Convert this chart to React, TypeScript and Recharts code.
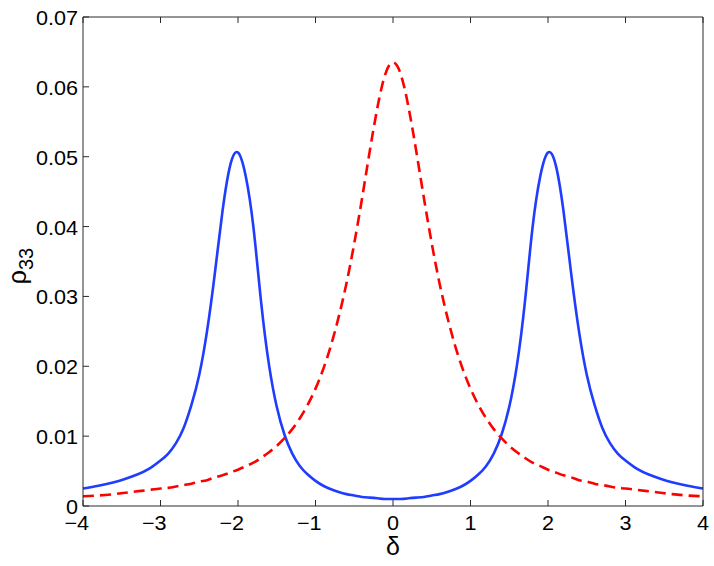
import React from "react";
import { LineChart, Line, XAxis, YAxis } from "recharts";

// detuning δ
const delta = [
  -4, -3.8, -3.6, -3.45, -3.3, -3.15, -3, -2.9, -2.8, -2.7,
  -2.6, -2.5, -2.4, -2.3, -2.2, -2.1, -2, -1.9, -1.8, -1.7, -1.6, -1.5, -1.4, -1.3, -1.2, -1.1,
  -1, -0.9, -0.8, -0.7, -0.6, -0.5, -0.4, -0.3, -0.2, -0.1,
  0,
  0.1, 0.2, 0.3, 0.4, 0.5, 0.6, 0.7, 0.8, 0.9, 1, 1.1, 1.2, 1.3, 1.4, 1.5, 1.6, 1.7, 1.8, 1.9,
  2, 2.1, 2.2, 2.3, 2.4, 2.5, 2.6,
  2.7, 2.8, 2.9, 3, 3.15, 3.3, 3.45, 3.6, 3.8, 4,
];

// solid blue curve (two peaks)
const blueRho = [
  0.0025, 0.0029, 0.0034, 0.0039, 0.0045, 0.0053, 0.0065, 0.0075, 0.009, 0.0112,
  0.0145, 0.0188, 0.025, 0.0332, 0.0422, 0.0488, 0.0506, 0.0472, 0.0398, 0.029, 0.0202, 0.0142,
  0.0102, 0.0075, 0.0057, 0.0045, 0.0036, 0.0029, 0.0024, 0.002, 0.0017, 0.0015, 0.0013, 0.0012,
  0.0011, 0.001,
  0.001,
  0.001, 0.0011, 0.0012, 0.0013, 0.0015, 0.0017, 0.002, 0.0024, 0.0029, 0.0036, 0.0045, 0.0057,
  0.0075, 0.0102, 0.0142, 0.0202, 0.029, 0.0398, 0.0472, 0.0506, 0.0488, 0.0422, 0.0332, 0.025,
  0.0188, 0.0145,
  0.0112, 0.009, 0.0075, 0.0065, 0.0053, 0.0045, 0.0039, 0.0034, 0.0029, 0.0025,
];

// dashed red curve (single central peak)
const redRho = [
  0.0014, 0.0015, 0.0017, 0.0019, 0.0021, 0.0023, 0.0025, 0.0026, 0.0028, 0.003,
  0.0032, 0.0035, 0.0037, 0.0041, 0.0044, 0.0048, 0.0052, 0.0057, 0.0062, 0.0069, 0.0077, 0.0086,
  0.0097, 0.011, 0.0126, 0.0145, 0.0168, 0.0196, 0.023, 0.0271, 0.0319, 0.0376, 0.044, 0.0508,
  0.0571, 0.0618,
  0.0635,
  0.0618, 0.0571, 0.0508, 0.044, 0.0376, 0.0319, 0.0271, 0.023, 0.0196, 0.0168, 0.0145, 0.0126,
  0.011, 0.0097, 0.0086, 0.0077, 0.0069, 0.0062, 0.0057, 0.0052, 0.0048, 0.0044, 0.0041, 0.0037,
  0.0035, 0.0032,
  0.003, 0.0028, 0.0026, 0.0025, 0.0023, 0.0021, 0.0019, 0.0017, 0.0015, 0.0014,
];

const xTicks = [-4, -3, -2, -1, 0, 1, 2, 3, 4];
const yTicks = [0, 0.01, 0.02, 0.03, 0.04, 0.05, 0.06, 0.07];
const yTickLabels = ["0", "0.01", "0.02", "0.03", "0.04", "0.05", "0.06", "0.07"];

const data = delta.map((d, i) => ({ d, blue: blueRho[i], red: redRho[i] }));

const FONT = "'Liberation Sans', Arial, Helvetica, sans-serif";
const AXIS = "#2a2a2a";
const TL = 6;
const W = 714;
const H = 566;
const M_TOP = 16;
const Y_W = 83;
const X_H = 60;
const M_RIGHT = 10;

const BottomTick = (props: any) => {
  const { x, y, payload } = props;
  const v = payload.value as number;
  const neg = v < 0;
  const label = neg ? "\u2212" + Math.abs(v) : String(v);
  return (
    <g>
      <line x1={x} x2={x} y1={y} y2={y - TL} stroke={AXIS} strokeWidth={1} />
      <text
        transform={`translate(${neg ? x + 6 : x},${y + 24}) scale(1.08,1)`}
        textAnchor={neg ? "end" : "middle"}
        fontSize={20}
        fontFamily={FONT}
        fill="#000"
      >
        {label}
      </text>
    </g>
  );
};

const TopTick = (props: any) => {
  const { x, y } = props;
  return <line x1={x} x2={x} y1={y} y2={y + TL} stroke={AXIS} strokeWidth={1} />;
};

const LeftTick = (props: any) => {
  const { x, y, index } = props;
  return (
    <g>
      <line x1={x} x2={x + TL} y1={y} y2={y} stroke={AXIS} strokeWidth={1} />
      <text
        transform={`translate(${x - 5},${y + 8}) scale(1.08,1)`}
        textAnchor="end"
        fontSize={20}
        fontFamily={FONT}
        fill="#000"
      >
        {yTickLabels[index]}
      </text>
    </g>
  );
};

const RightTick = (props: any) => {
  const { x, y } = props;
  return <line x1={x} x2={x - TL} y1={y} y2={y} stroke={AXIS} strokeWidth={1} />;
};

const XLabel = () => {
  const cx = Y_W + (W - Y_W - M_RIGHT - 1) / 2;
  return (
    <text x={cx} y={H - 11} textAnchor="middle" fontSize={25} fontFamily={FONT} fill="#000">
      δ
    </text>
  );
};

const YLabel = () => (
  <text transform="translate(26,266) rotate(-90)" textAnchor="middle" fontFamily={FONT} fill="#000">
    <tspan fontSize={25}>ρ</tspan>
    <tspan fontSize={20} dy={7}>33</tspan>
  </text>
);

export default function App() {
  return (
    <div style={{ position: "fixed", left: 0, top: 0, width: W, height: H, background: "#fff" }}>
      <LineChart
        width={W}
        height={H}
        data={data}
        margin={{ top: M_TOP, right: M_RIGHT, bottom: 0, left: 0 }}
      >
        <XAxis
          xAxisId={0}
          dataKey="d"
          type="number"
          domain={[-4, 4]}
          ticks={xTicks}
          interval={0}
          height={X_H}
          tickSize={0}
          tickMargin={0}
          tickLine={false}
          axisLine={{ stroke: AXIS, strokeWidth: 1 }}
          tick={BottomTick}
          label={XLabel}
        />
        <XAxis
          xAxisId="top"
          orientation="top"
          dataKey="d"
          type="number"
          domain={[-4, 4]}
          ticks={xTicks}
          interval={0}
          height={1}
          tickSize={0}
          tickMargin={0}
          tickLine={false}
          axisLine={{ stroke: AXIS, strokeWidth: 1 }}
          tick={TopTick}
        />
        <YAxis
          yAxisId={0}
          type="number"
          domain={[0, 0.07]}
          ticks={yTicks}
          interval={0}
          width={Y_W}
          tickSize={0}
          tickMargin={0}
          tickLine={false}
          axisLine={{ stroke: AXIS, strokeWidth: 1 }}
          tick={LeftTick}
          label={YLabel}
        />
        <YAxis
          yAxisId="right"
          orientation="right"
          type="number"
          domain={[0, 0.07]}
          ticks={yTicks}
          interval={0}
          width={1}
          tickSize={0}
          tickMargin={0}
          tickLine={false}
          axisLine={{ stroke: AXIS, strokeWidth: 1 }}
          tick={RightTick}
        />
        <Line
          xAxisId={0}
          yAxisId={0}
          dataKey="blue"
          type="natural"
          stroke="#1f3cff"
          strokeWidth={2.6}
          dot={false}
          activeDot={false}
          isAnimationActive={false}
        />
        <Line
          xAxisId={0}
          yAxisId={0}
          dataKey="red"
          type="natural"
          stroke="#ff0000"
          strokeWidth={2.6}
          strokeDasharray="11 6"
          dot={false}
          activeDot={false}
          isAnimationActive={false}
        />
      </LineChart>
    </div>
  );
}
